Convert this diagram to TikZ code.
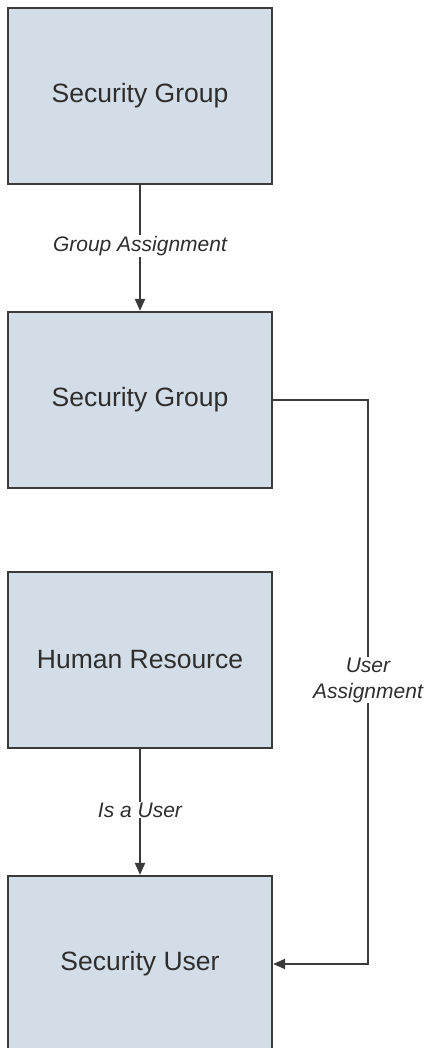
\documentclass[tikz,border=0pt]{standalone}
\usepackage{fontspec}
\setmainfont{Liberation Sans}
\usepackage{tikz}
\usetikzlibrary{arrows.meta,positioning}

\definecolor{boxfill}{HTML}{D3DDE7}
\definecolor{boxline}{HTML}{3A3A3A}
\definecolor{inktext}{HTML}{2E2E2E}

\tikzset{
	entity/.style={draw=boxline, line width=2.2pt, fill=boxfill, minimum width=264pt,
		minimum height=176pt, inner sep=0pt, text=inktext, font=\fontsize{26.5}{31}\selectfont},
	link/.style={draw=boxline, line width=2pt, -{Triangle[length=12pt,width=10pt]}},
	linklabel/.style={fill=white, inner sep=1pt, text=inktext, align=center,
		font=\fontsize{21}{26}\selectfont\itshape}
}

\begin{document}
\begin{tikzpicture}[x=1pt,y=-1pt]
			\clip (0,0) rectangle (427,1048);
			% boxes
			\node[entity] (grouptop) at (140,96) {Security Group};
			\node[entity] (groupmid) at (140,400) {Security Group};
			\node[entity] (human) at (140,660) {Human Resource};
			\node[entity] (secuser) at (140,964) {Security User};
			% corner of the user link
			\coordinate (bendtop) at (368,400);
			\coordinate (bendlow) at (368,964);
			% links
			\draw[link] (grouptop) -- (groupmid);
			\draw[link] (human) -- (secuser);
			\draw[link] (groupmid.east) -- (bendtop) -- (bendlow) -- (secuser.east);
			% link labels
			\node[linklabel] (lblgroup) at (140,246) {Group Assignment};
			\node[linklabel] (lbluser) at (140,810) {Is a User};
			\node[linklabel] (lblassign) at (368,680) {User\\Assignment};
		\end{tikzpicture}
\end{document}
